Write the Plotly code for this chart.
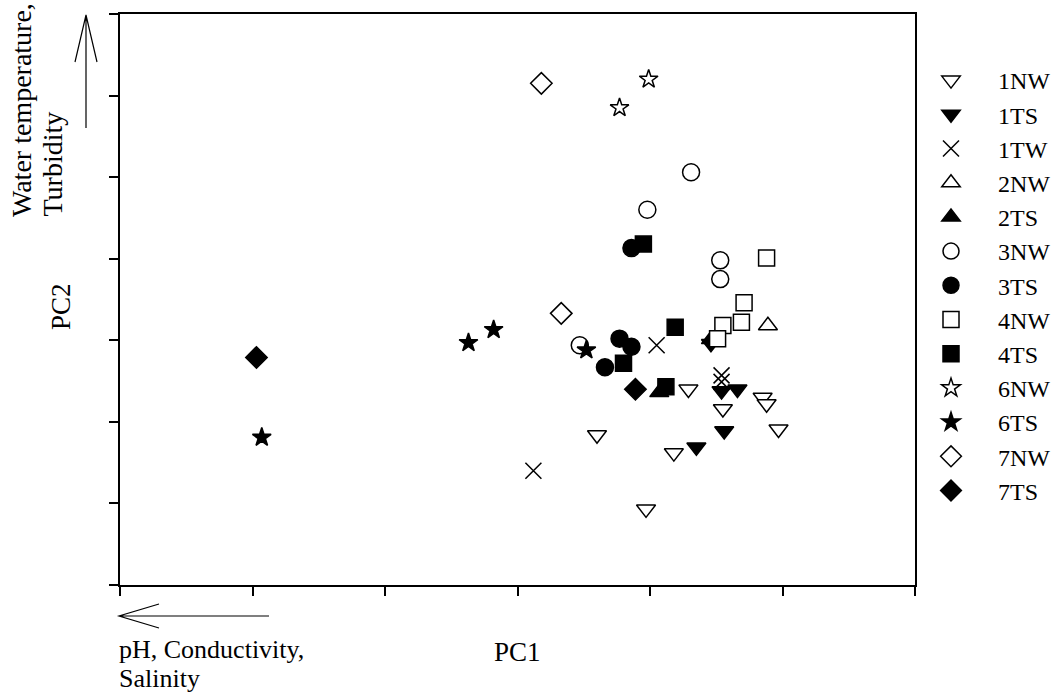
import plotly.graph_objects as go

# ---- PCA scores per sample group (PC1, PC2) ----
groups = ["1NW", "1TS", "1TW", "2NW", "2TS", "3NW", "3TS",
          "4NW", "4TS", "6NW", "6TS", "7NW", "7TS"]

pc1_1NW = [-0.40, -0.03, 0.18, 0.29, 0.55, 0.85, 0.88, 0.97]
pc2_1NW = [-2.16, -3.07, -2.38, -1.60, -1.84, -1.70, -1.78, -2.09]

pc1_1TS = [0.54, 0.66, 0.56, 0.35, 0.46]
pc2_1TS = [-1.62, -1.60, -2.11, -2.31, -1.04]

pc1_1TW = [-0.88, 0.05, 0.54, 0.54]
pc2_1TW = [-2.60, -1.06, -1.43, -1.51]

pc1_2NW = [0.89]
pc2_2NW = [-0.82]

pc1_2TS = [0.07, 0.46]
pc2_2TS = [-1.64, -0.99]

pc1_3NW = [0.31, -0.02, 0.53, 0.53, -0.53]
pc2_3NW = [1.06, 0.60, -0.02, -0.25, -1.06]

pc1_3TS = [-0.14, -0.23, -0.14, -0.34]
pc2_3TS = [0.13, -0.98, -1.08, -1.33]

pc1_4NW = [0.88, 0.71, 0.69, 0.55, 0.51]
pc2_4NW = [0.01, -0.54, -0.78, -0.82, -0.98]

pc1_4TS = [-0.05, 0.19, -0.20, 0.12]
pc2_4TS = [0.18, -0.84, -1.28, -1.57]

pc1_6NW = [-0.01, -0.23]
pc2_6NW = [2.20, 1.85]

pc1_6TS = [-2.93, -1.37, -1.18, -0.48]
pc2_6TS = [-2.19, -1.03, -0.87, -1.12]

pc1_7NW = [-0.82, -0.67]
pc2_7NW = [2.15, -0.67]

pc1_7TS = [-2.97, -0.11]
pc2_7TS = [-1.21, -1.60]

scores = {
    "1NW": (pc1_1NW, pc2_1NW), "1TS": (pc1_1TS, pc2_1TS), "1TW": (pc1_1TW, pc2_1TW),
    "2NW": (pc1_2NW, pc2_2NW), "2TS": (pc1_2TS, pc2_2TS),
    "3NW": (pc1_3NW, pc2_3NW), "3TS": (pc1_3TS, pc2_3TS),
    "4NW": (pc1_4NW, pc2_4NW), "4TS": (pc1_4TS, pc2_4TS),
    "6NW": (pc1_6NW, pc2_6NW), "6TS": (pc1_6TS, pc2_6TS),
    "7NW": (pc1_7NW, pc2_7NW), "7TS": (pc1_7TS, pc2_7TS),
}

# ---- marker styles: NW = hollow (white fill), TS = solid black ----
styles = {
    "1NW": ("triangle-down", "white", 16.5),
    "1TS": ("triangle-down", "black", 16.5),
    "1TW": ("x-thin", "black", 16),
    "2NW": ("triangle-up", "white", 16.5),
    "2TS": ("triangle-up", "black", 16.5),
    "3NW": ("circle", "white", 17),
    "3TS": ("circle", "black", 17),
    "4NW": ("square", "white", 16),
    "4TS": ("square", "black", 16),
    "6NW": ("star", "white", 14),
    "6TS": ("star", "black", 14),
    "7NW": ("diamond", "white", 16.5),
    "7TS": ("diamond", "black", 16.5),
}

W, H = 1056, 693
ML, MR, MT, MB = 120, 141, 14, 108
PW, PH = W - ML - MR, H - MT - MB
FONT = "Liberation Serif"


def px(x):
    return (x - ML) / PW


def py(y):
    return (H - MB - y) / PH


fig = go.Figure()
for g in groups:
    xs, ys = scores[g]
    sym, fill, size = styles[g]
    fig.add_trace(go.Scatter(
        x=xs, y=ys, mode="markers", name=g, legendgroup=g,
        marker=dict(symbol=sym, color=fill, size=size,
                    line=dict(color="black", width=1.5)),
    ))

axis_common = dict(
    showline=True, linecolor="black", linewidth=1.5, mirror=True,
    ticks="outside", ticklen=9, tickwidth=1.5, tickcolor="black",
    showticklabels=False, showgrid=False, zeroline=False, dtick=1,
)
fig.update_xaxes(range=[-4, 2], tick0=-4, **axis_common)
fig.update_yaxes(range=[-4, 3], tick0=-4, **axis_common)

# direction arrows for the loadings
arrow_line = dict(color="black", width=1.2)
up_arrow = (f"M {px(86)},{py(128)} L {px(86)},{py(15)} "
            f"M {px(75)},{py(62)} L {px(86)},{py(15)} L {px(97)},{py(62)}")
left_arrow = (f"M {px(269)},{py(616)} L {px(119)},{py(616)} "
              f"M {px(159)},{py(604)} L {px(119)},{py(616)} L {px(159)},{py(628)}")
fig.add_shape(type="path", xref="paper", yref="paper", path=up_arrow, line=arrow_line)
fig.add_shape(type="path", xref="paper", yref="paper", path=left_arrow, line=arrow_line)

tfont = dict(family=FONT, size=27, color="black")
vfont = dict(family=FONT, size=28, color="black")
sfont = dict(family=FONT, size=26, color="black")
texts = [
    dict(text="PC1", x=px(517), y=py(652), xanchor="center", yanchor="middle", font=tfont),
    dict(text="PC2", x=px(61), y=py(307), xanchor="center", yanchor="middle", textangle=-90, font=tfont),
    dict(text="Water temperature,", x=px(22), y=py(219), xanchor="center", yanchor="bottom",
         textangle=-90, font=vfont),
    dict(text="Turbidity", x=px(52), y=py(219), xanchor="center", yanchor="bottom",
         textangle=-90, font=vfont),
    dict(text="pH, Conductivity,", x=px(117), y=py(649), xanchor="left", yanchor="middle", font=sfont),
    dict(text="Salinity", x=px(117), y=py(678), xanchor="left", yanchor="middle", font=sfont),
]
for t in texts:
    fig.add_annotation(xref="paper", yref="paper", showarrow=False, **t)

fig.update_layout(
    width=W, height=H,
    margin=dict(l=ML, r=MR, t=MT, b=MB, pad=0, autoexpand=False),
    paper_bgcolor="white", plot_bgcolor="white",
    font=dict(family=FONT, color="black"),
    showlegend=True,
    legend=dict(
        x=px(904), y=py(58), xanchor="left", yanchor="top",
        font=dict(family=FONT, size=24, color="black"),
        itemwidth=84, tracegroupgap=0, bgcolor="rgba(0,0,0,0)",
        borderwidth=0, itemsizing="trace",
    ),
)

fig.write_html("out.html")
